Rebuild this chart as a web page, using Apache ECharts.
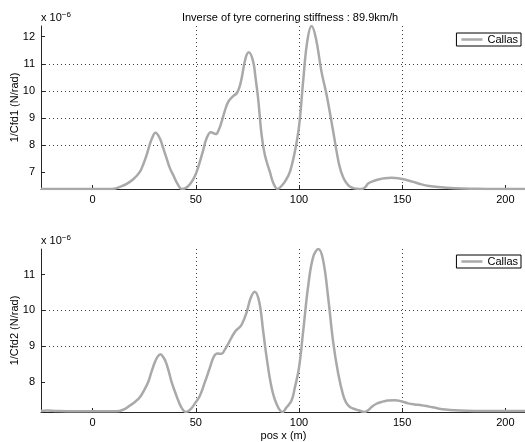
<!DOCTYPE html>
<html>
<head>
<meta charset="utf-8">
<script src="https://cdn.jsdelivr.net/npm/echarts@6/dist/echarts.min.js"></script>
<style>
  html, body { margin: 0; padding: 0; background: #fff; }
  #chart { width: 525px; height: 442px; }
</style>
</head>
<body>
<div id="chart"></div>
<script>
// Labels and tick values
const titleText = 'Inverse of tyre cornering stiffness : 89.9km/h';
const seriesName = 'Callas';
const xAxisName = 'pos x (m)';
const yNameTop = '1/Cfd1 (N/rad)';
const yNameBottom = '1/Cfd2 (N/rad)';
const xTicks = [0, 50, 100, 150, 200];
const yTicksTop = [7, 8, 9, 10, 11, 12];
const yTicksBottom = [8, 9, 10, 11];

// Front axle: position (m) and 1/Cfd1 (x 1e-6 rad/N)
const posFront = [-25, -10, 0, 8, 11, 13.2, 16.5, 19.7, 22.9, 24.8, 26.2, 27.5, 28.6, 30.5, 32.6, 34.2, 35.9, 37.5, 39.1,
  41, 43.3, 45, 47, 48.8, 50.4, 52, 53.7, 55.2, 57.3, 59.7, 61.2, 62.5, 64, 65.7, 68.1, 69.8, 71, 72.2, 74.1,
  75.7, 77.8, 79, 80.2, 81.9, 83.5, 85.9, 87.6, 89.7, 91.5, 93.5, 95.6, 98, 100.1, 102, 104, 106.1, 108.2,
  110.9, 113.4, 116.6, 119.5, 121.5, 123.8, 126, 128, 130.3, 132, 133.5, 136, 138.4, 141.5, 144.9, 148,
  151.3, 155, 159.4, 163, 167.4, 175.5, 185, 195, 210];
const cfd1 = [6.39, 6.39, 6.39, 6.39, 6.41, 6.47, 6.58, 6.75, 7.02, 7.35, 7.65, 7.98, 8.22, 8.46, 8.25, 7.9, 7.51, 7.15, 6.9,
  6.6, 6.39, 6.42, 6.55, 6.75, 7.02, 7.4, 7.85, 8.25, 8.48, 8.41, 8.58, 8.86, 9.25, 9.6, 9.81, 9.91, 10.1, 10.46, 11.2,
  11.42, 11.08, 10.45, 9.73, 8.37, 7.63, 7.02, 6.6, 6.39, 6.5, 6.7, 7.02, 7.76, 8.74, 10.34, 11.82, 12.39, 11.94,
  10.71, 9.85, 8.5, 7.27, 6.8, 6.53, 6.43, 6.4, 6.39, 6.45, 6.59, 6.68, 6.74, 6.79, 6.8, 6.79,
  6.74, 6.66, 6.56, 6.5, 6.46, 6.42, 6.4, 6.39, 6.39];

// Rear axle: position (m) and 1/Cfd2 (x 1e-6 rad/N)
const posRear = [-25, -22, -18, -10, 0, 10, 13, 15.5, 18.1, 20.5, 22.9, 25, 26.9, 28.6, 30.2, 31.6, 32.9, 34.2, 35.5, 37, 38.3,
  40, 41.5, 43.3, 45.2, 47.5, 49.7, 51.8, 54.4, 56.8, 58.8, 60.5, 62.5, 64, 65.7, 68.9, 71, 72.2, 74.6, 76.5,
  78.5, 80.7, 82.7, 84.3, 86.7, 89.1, 92, 94, 96.4, 98, 100, 102, 104.5, 106.9, 109.4, 111.7, 114.1, 116.6,
  119, 121.4, 123, 124.7, 126.5, 128.7, 131.9, 133.5, 135.2, 137.5, 140, 143, 146.5, 149.5, 152.9, 156,
  159.4, 163, 167.4, 171, 175.5, 185, 195, 210];
const cfd2 = [7.2, 7.21, 7.2, 7.19, 7.19, 7.19, 7.2, 7.25, 7.35, 7.45, 7.58, 7.78, 8.0, 8.3, 8.56, 8.72, 8.78, 8.7, 8.56, 8.28, 8.0,
  7.72, 7.49, 7.27, 7.17, 7.25, 7.42, 7.6, 8.0, 8.4, 8.72, 8.8, 8.79, 8.9, 9.07, 9.4, 9.52, 9.6, 9.94, 10.33,
  10.52, 10.25, 9.4, 8.7, 7.86, 7.4, 7.17, 7.3, 7.49, 7.85, 8.4, 9.4, 10.7, 11.49, 11.71, 11.4, 10.38, 9.1,
  8.24, 7.64, 7.42, 7.31, 7.26, 7.22, 7.17, 7.22, 7.31, 7.4, 7.45, 7.49, 7.5, 7.47, 7.41, 7.38,
  7.36, 7.32, 7.27, 7.24, 7.22, 7.2, 7.2, 7.2];

const pairs = (xs, ys) => xs.map((x, i) => [x, ys[i]]);

const FONT = "'Liberation Sans', Arial, Helvetica, sans-serif";
const AXIS_COLOR = '#262626';
const LINE_COLOR = '#a9a9a9';

const grids = [
  { left: 41, top: 26, width: 485, height: 163, outerBoundsMode: 'none', containLabel: false },
  { left: 41, top: 249, width: 485, height: 163, outerBoundsMode: 'none', containLabel: false }
];

function makeX(gridIndex, withName) {
  return {
    type: 'value', gridIndex, min: -25, max: 210,
    name: withName ? xAxisName : '',
    nameLocation: 'middle', nameGap: 18,
    nameTextStyle: { fontFamily: FONT, fontSize: 11, color: '#000' },
    axisLine: { show: true, onZero: false, lineStyle: { color: AXIS_COLOR, width: 1 } },
    axisTick: { show: true, inside: true, length: 4, customValues: xTicks, lineStyle: { color: AXIS_COLOR } },
    axisLabel: { customValues: xTicks, margin: 5, fontFamily: FONT, fontSize: 11, color: '#000' },
    splitLine: { show: true, showMinLine: false, showMaxLine: false,
      lineStyle: { color: '#3c3c3c', width: 1, type: [1, 3] } }
  };
}

function makeY(gridIndex, name, ticks) {
  return {
    type: 'value', gridIndex, min: 'dataMin', max: 'dataMax',
    name, nameLocation: 'middle', nameRotate: 90, nameGap: 21, nameMoveOverlap: false,
    nameTextStyle: { fontFamily: FONT, fontSize: 11, color: '#000' },
    axisLine: { show: true, onZero: false, lineStyle: { color: AXIS_COLOR, width: 1 } },
    axisTick: { show: true, inside: true, length: 4, customValues: ticks, lineStyle: { color: AXIS_COLOR } },
    axisLabel: { customValues: ticks, margin: 6, fontFamily: FONT, fontSize: 11, color: '#000' },
    splitLine: { show: true, showMinLine: false, showMaxLine: false,
      lineStyle: { color: '#3c3c3c', width: 1, type: [1, 3] } }
  };
}

function makeLegend(top) {
  return {
    data: [seriesName], right: 4, top,
    orient: 'horizontal',
    backgroundColor: '#fff', borderColor: '#000', borderWidth: 1,
    padding: [1, 3, 1, 5],
    icon: 'rect', itemWidth: 21, itemHeight: 2.5, itemGap: 5,
    itemStyle: { color: LINE_COLOR },
    textStyle: { fontFamily: FONT, fontSize: 11, color: '#000' },
    selectedMode: false
  };
}

function makeSeries(index, xs, ys) {
  return {
    name: seriesName, type: 'line', xAxisIndex: index, yAxisIndex: index,
    data: pairs(xs, ys), showSymbol: false, smooth: 0.4,
    clip: true, animation: false,
    lineStyle: { color: LINE_COLOR, width: 2.5 },
    itemStyle: { color: LINE_COLOR }
  };
}

const chart = echarts.init(document.getElementById('chart'), null, { renderer: 'canvas' });
chart.setOption({
  backgroundColor: '#fff',
  animation: false,
  title: {
    text: titleText, left: 285, top: 7, textAlign: 'center',
    textStyle: { fontFamily: FONT, fontSize: 11, fontWeight: 'normal', color: '#000' }
  },
  grid: grids,
  xAxis: [makeX(0, false), makeX(1, true)],
  yAxis: [makeY(0, yNameTop, yTicksTop), makeY(1, yNameBottom, yTicksBottom)],
  legend: [makeLegend(33), makeLegend(255)],
  graphic: [
    { type: 'text', left: 41, top: 11,
      style: { text: 'x 10{sup|−6}', font: '11px ' + FONT, fill: '#000',
        rich: { sup: { fontSize: 8, verticalAlign: 'top', padding: [0, 0, 6, 0], fontFamily: FONT } } } },
    { type: 'text', left: 41, top: 234,
      style: { text: 'x 10{sup|−6}', font: '11px ' + FONT, fill: '#000',
        rich: { sup: { fontSize: 8, verticalAlign: 'top', padding: [0, 0, 6, 0], fontFamily: FONT } } } }
  ],
  series: [makeSeries(0, posFront, cfd1), makeSeries(1, posRear, cfd2)]
});
</script>
</body>
</html>
